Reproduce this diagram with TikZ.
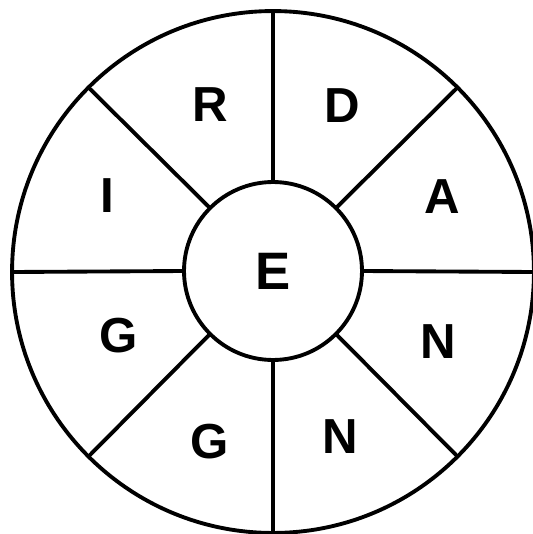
\documentclass[tikz,border=0pt]{standalone}
\usepackage{fontspec}
\setmainfont{Liberation Sans}
\begin{document}
\begin{tikzpicture}[x=0.02cm, y=-0.02cm, line width=2.2pt,
  letter/.style={font=\fontsize{28}{28}\selectfont\bfseries, inner sep=0pt}]
	\useasboundingbox (0,0) rectangle (532,534);
	\node (ring) at (273,272) [circle, draw, minimum size=10.44cm, inner sep=0pt, outer sep=0pt] {};
	\node (E) at (273,271) [circle, draw, minimum size=3.56cm, inner sep=0pt, outer sep=0pt, font=\fontsize{30}{30}\selectfont\bfseries] {E};
	\foreach \a in {0,45,...,315}
		\draw (E.\a) -- (ring.\a);
	\node (r) at (210,105) [letter] {R};
	\node (d) at (342,106) [letter] {D};
	\node (a) at (442,197) [letter] {A};
	\node (n1) at (438,342) [letter] {N};
	\node (n2) at (340,437) [letter] {N};
	\node (g1) at (210,442) [letter] {G};
	\node (g2) at (119,336) [letter] {G};
	\node (i) at (107,196) [letter] {I};
\end{tikzpicture}
\end{document}
